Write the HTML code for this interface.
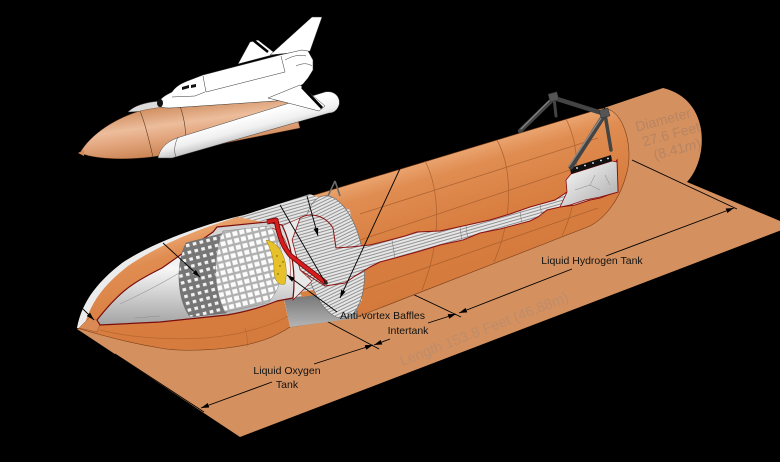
<!DOCTYPE html>
<html><head><meta charset="utf-8"><style>html,body{margin:0;padding:0;background:#000;}svg{display:block;}</style></head>
<body>
<svg width="780" height="462" viewBox="0 0 780 462" xmlns="http://www.w3.org/2000/svg" font-family="'Liberation Sans', Arial, sans-serif">
<defs>
 <linearGradient id="tankG" gradientUnits="userSpaceOnUse" x1="400" y1="165" x2="440" y2="300">
  <stop offset="0" stop-color="#eca975"/>
  <stop offset="0.15" stop-color="#e08d52"/>
  <stop offset="0.55" stop-color="#d87d3f"/>
  <stop offset="1" stop-color="#d27a3c"/>
 </linearGradient>
 <linearGradient id="loxCut" x1="0" y1="0" x2="0" y2="1">
  <stop offset="0" stop-color="#cccccc"/><stop offset="0.45" stop-color="#f7f7f7"/><stop offset="1" stop-color="#a3a3a3"/>
 </linearGradient>
 <linearGradient id="greyB" x1="0" y1="0" x2="0" y2="1">
  <stop offset="0" stop-color="#6f6f6f"/><stop offset="1" stop-color="#b5b5b5"/>
 </linearGradient>
 <linearGradient id="whiteR" x1="0" y1="0" x2="1" y2="1">
  <stop offset="0" stop-color="#ffffff"/><stop offset="1" stop-color="#a8a8a8"/>
 </linearGradient>
 <linearGradient id="etG" gradientUnits="userSpaceOnUse" x1="150" y1="103" x2="158" y2="162">
  <stop offset="0" stop-color="#c98250"/><stop offset="0.4" stop-color="#ecbd9c"/><stop offset="0.6" stop-color="#e3a67e"/><stop offset="1" stop-color="#c47a47"/>
 </linearGradient>
 <linearGradient id="srbG" gradientUnits="userSpaceOnUse" x1="240" y1="118" x2="246" y2="142">
  <stop offset="0" stop-color="#ffffff"/><stop offset="0.5" stop-color="#f0f0f0"/><stop offset="1" stop-color="#b9b9b9"/>
 </linearGradient>
 <pattern id="stripes" width="6" height="3" patternUnits="userSpaceOnUse" patternTransform="rotate(-16)">
  <rect width="6" height="3" fill="#e6e6e6"/><rect y="2.1" width="6" height="0.9" fill="#8a8a8a"/>
 </pattern>
 <pattern id="dgrid" width="7" height="7" patternUnits="userSpaceOnUse" patternTransform="rotate(-14)">
  <rect width="7" height="7" fill="#767676"/><rect x="2" y="2" width="3.6" height="3.2" fill="#f2f2f2"/>
 </pattern>
 <pattern id="wgrid" width="7" height="7" patternUnits="userSpaceOnUse" patternTransform="rotate(-14)">
  <rect width="7" height="7" fill="#b0b0b0"/><rect x="1" y="1.2" width="5" height="4.6" fill="#fbfbfb"/>
 </pattern>
 <marker id="ah" viewBox="0 0 8 6" refX="8" refY="3" markerWidth="8" markerHeight="6" markerUnits="userSpaceOnUse" orient="auto-start-reverse">
  <path d="M0,0.6 L8,3 L0,5.4 Z" fill="#000"/>
 </marker>
</defs>

<rect width="780" height="462" fill="#000"/>

<!-- shadow plane + projected cylinder -->
<path d="M77,329 L240,437 L792,226 L687,182 C708,160 712,100 663,88 L598,110 L590,225 Z" fill="#d4915f"/>

<!-- plane texts -->
<g transform="translate(671,134) rotate(-15)" fill="#b98461" font-size="14" text-anchor="middle">
 <text x="-4" y="-11">Diameter</text>
 <text x="0" y="5">27.6 Feet</text>
 <text x="2" y="21">(8.41<tspan font-style="italic">m</tspan>)</text>
</g>
<text transform="translate(484,329) rotate(-21.3)" text-anchor="middle" font-size="14.5" fill="#bf8c6a" y="5">Length 153.8 Feet (46.88m)</text>

<!-- dimension / extension lines on plane -->
<g stroke="#000" stroke-width="0.9" fill="none">
 <line x1="115" y1="354" x2="204" y2="412"/>
 <line x1="287" y1="300" x2="379" y2="349"/>
 <line x1="368" y1="273" x2="461" y2="317"/>
 <line x1="632" y1="160" x2="737" y2="209"/>
 <line x1="201" y1="408" x2="272" y2="382" marker-start="url(#ah)"/>
 <line x1="314" y1="364" x2="373" y2="345" marker-end="url(#ah)"/>
 <line x1="374" y1="345" x2="390" y2="339" marker-start="url(#ah)"/>
 <line x1="428" y1="323" x2="456" y2="314" marker-end="url(#ah)"/>
 <line x1="459" y1="313" x2="572" y2="269" marker-start="url(#ah)"/>
 <line x1="606" y1="256" x2="734" y2="208" marker-end="url(#ah)"/>
</g>

<!-- tank silhouette -->
<path d="M77,328 C86,302 110,276 143,254 C172,236 212,222 255,213 L600,109 C622,104 634,145 627,172 C620,200 605,218 590,226 L357,317 L290,327 C275,337 258,344 227,348 C200,351 175,351 160,348 C130,343 100,335 77,328 Z" fill="url(#tankG)" stroke="#7a3e18" stroke-width="0.6"/>
<!-- nose rim highlight -->
<path d="M77,328 C82,300 100,280 122,263 C150,244 200,225 248,214 C205,226 160,244 128,266 C105,284 90,302 84,328 Z" fill="#ececec"/>
<path d="M79,328 L90,317 L101,322 L97,332 Z" fill="#d98a55" stroke="#8b4a22" stroke-width="0.4"/>
<!-- LOX lower seam -->
<path d="M100,330 C140,340 200,342 240,333 C262,328 278,322 288,316" fill="none" stroke="#a85e2c" stroke-width="0.7" opacity="0.7"/>
<path d="M245,328 C247,335 248,342 247,347" fill="none" stroke="#a85e2c" stroke-width="0.6" opacity="0.7"/>

<!-- LH2 grid lines -->
<g stroke="#a85e2c" stroke-width="0.8" fill="none" opacity="0.85">
 <line x1="360" y1="214" x2="598" y2="138"/>
 <line x1="360" y1="240" x2="600" y2="160"/>
 <line x1="362" y1="290" x2="598" y2="208"/>
 <path d="M425,161 C440,190 442,240 422,290"/>
 <path d="M497,140 C512,168 514,215 494,262"/>
 <path d="M566,119 C580,146 582,192 562,236"/>
</g>

<!-- intertank body -->
<path d="M238,217 L310,194 L350,210 L362,300 L352,318 L290,327 L284,300 L282,226 Z" fill="url(#stripes)"/>
<path d="M284,298 L357,291 L357,318 L290,327 Z" fill="url(#greyB)"/>
<path d="M300,292 L338,286 L336,292 L302,297 Z" fill="#d9813f"/>
<!-- LH2 forward ring -->
<ellipse cx="334" cy="257" rx="29" ry="62" transform="rotate(-10 334 257)" fill="url(#stripes)" stroke="#6d6d6d" stroke-width="0.7"/>

<!-- inner dome + LH2 cut strip -->
<path d="M300,218 C310,212 325,215 333,228 L336,248 L350,247 L370,245 L390,240 L405,236 L417,232 L440,231 L463,226 L490,220 L510,214 L530,207 L555,200 L567,192 L575,185 L580,177 L595,172 L613,166 L617,160 L618,192 L608,195 L600,198 L590,200 L575,205 L560,207 L547,210 L538,217 L530,221 L500,229 L480,233 L463,240 L440,245 L417,252 L395,258 L380,262 L370,267 L355,276 L345,283 L325,286 L300,270 L292,240 Z" fill="url(#stripes)" stroke="#8b1010" stroke-width="1"/>
<g stroke="#7f7f7f" stroke-width="0.6">
 <line x1="392" y1="240" x2="395" y2="258"/><line x1="460" y1="227" x2="462" y2="241"/><line x1="466" y1="226" x2="468" y2="240"/>
 <line x1="520" y1="211" x2="522" y2="225"/><line x1="540" y1="204" x2="542" y2="217"/>
</g>
<!-- white region at aft end -->
<path d="M566,180 L571,174 L612,161 L617,162 L618,192 L600,197 L585,200 L570,205 L560,207 L567,192 Z" fill="url(#whiteR)" stroke="#8b1010" stroke-width="0.8"/>
<path d="M575,190 L590,185 L600,190 M590,185 L595,175 M605,175 L610,185" stroke="#888" stroke-width="0.5" fill="none"/>
<path d="M570,168 L611,155 L612,161 L571,174 Z" fill="#111"/>
<g fill="#fff"><circle cx="577" cy="168" r="0.9"/><circle cx="585" cy="165.5" r="0.9"/><circle cx="593" cy="163" r="0.9"/><circle cx="601" cy="160.5" r="0.9"/><circle cx="608" cy="158.5" r="0.9"/></g>

<!-- white dome near pipe -->
<path d="M282,226 C290,222 298,219 300,218 L292,240 L300,270 L312,281 L293,300 C296,280 292,245 282,226 Z" fill="#e9e9e9" stroke="#8b1010" stroke-width="0.6"/>

<!-- LOX cutaway -->
<path d="M97,320 C108,306 120,293 132,285 C142,278 152,273 162,268 L193,246 L213,232 L217,227 L267,222 L282,225 C292,245 296,275 293,298 L277,301 C260,308 245,312 227,315 L160,322 L100,325 Z" fill="url(#loxCut)" stroke="#7a0c0c" stroke-width="1.2"/>
<path d="M120,304 C150,290 175,276 190,266" stroke="#9a9a9a" stroke-width="0.6" fill="none"/>
<path d="M135,318 L160,316" stroke="#8a8a8a" stroke-width="0.6" fill="none"/>
<path d="M186,243 C176,262 176,298 190,317 L226,313 C236,295 236,255 224,233 Z" fill="url(#dgrid)" stroke="#666" stroke-width="0.5"/>
<path d="M223,231 C213,255 213,288 225,312 L268,303 C286,283 288,250 270,226 Z" fill="url(#wgrid)" stroke="#888" stroke-width="0.5"/>
<path d="M266,240 C280,242 290,262 285,284 C278,286 274,280 274,270 C274,258 270,248 266,240 Z" fill="#e6c12a" stroke="#9a7d10" stroke-width="0.5"/>
<g fill="#5a4a10"><circle cx="277" cy="256" r="0.7"/><circle cx="280" cy="266" r="0.7"/><circle cx="278" cy="274" r="0.7"/><circle cx="283" cy="262" r="0.7"/></g>
<path d="M272,228 C285,232 292,250 290,280" stroke="#b03030" stroke-width="0.7" fill="none"/>

<!-- red pipe -->
<path d="M267,222 L276,220 C279,235 282,246 291,256 L326,283" fill="none" stroke="#6a0808" stroke-width="5" stroke-linejoin="round"/>
<path d="M267,222 L276,220 C279,235 282,246 291,256 L326,283" fill="none" stroke="#d61c1c" stroke-width="3.4" stroke-linejoin="round"/>
<circle cx="326" cy="283" r="1.8" fill="#222"/>

<!-- small bipod on intertank -->
<g stroke="#6a6a6a" stroke-width="1.6" fill="none"><line x1="335" y1="181" x2="328" y2="196"/><line x1="335" y1="181" x2="340" y2="196"/></g>

<!-- aft struts -->
<g stroke-linecap="round">
 <line x1="520" y1="131" x2="554" y2="98" stroke="#444" stroke-width="4.5"/>
 <line x1="554" y1="98" x2="556" y2="116" stroke="#444" stroke-width="3"/>
 <line x1="554" y1="98" x2="605" y2="114" stroke="#444" stroke-width="4.5"/>
 <line x1="605" y1="114" x2="571" y2="167" stroke="#444" stroke-width="5"/>
 <line x1="605" y1="114" x2="611" y2="150" stroke="#444" stroke-width="3.5"/>
 <line x1="521" y1="129" x2="553" y2="97" stroke="#8a8a8a" stroke-width="1.2"/>
 <line x1="603" y1="115" x2="569" y2="166" stroke="#8a8a8a" stroke-width="1.4"/>
</g>
<rect x="549" y="93" width="9" height="8" fill="#555" stroke="#333" stroke-width="0.6" transform="rotate(-15 553 97)"/>
<rect x="600" y="109" width="9" height="8" fill="#555" stroke="#333" stroke-width="0.6" transform="rotate(-15 605 113)"/>
<line x1="602" y1="103" x2="605" y2="109" stroke="#000" stroke-width="0.8" marker-end="url(#ah)"/>

<!-- leader lines -->
<g stroke="#000" stroke-width="0.9" fill="none">
 <line x1="163" y1="243" x2="200" y2="277" marker-end="url(#ah)"/>
 <line x1="82" y1="308" x2="94" y2="320" marker-end="url(#ah)"/>
 <line x1="280" y1="205" x2="325" y2="282"/>
 <line x1="307" y1="196" x2="318" y2="236" marker-end="url(#ah)"/>
 <line x1="404" y1="160" x2="340" y2="298" marker-end="url(#ah)"/>
 <line x1="337" y1="312" x2="287" y2="275" marker-end="url(#ah)"/>
</g>

<!-- labels -->
<g font-size="10.5" fill="#111">
 <text x="592" y="264" text-anchor="middle">Liquid Hydrogen Tank</text>
 <text x="340" y="319">Anti-vortex Baffles</text>
 <text x="408" y="334" text-anchor="middle">Intertank</text>
 <text x="287" y="374" text-anchor="middle">Liquid Oxygen</text>
 <text x="287" y="388" text-anchor="middle">Tank</text>
</g>

<!-- SHUTTLE STACK -->
<path d="M128,112 C134,106 145,102 162,101 L163,110 Z" fill="#dcdcdc" stroke="#555" stroke-width="0.4"/>
<path d="M80,153 C88,138 110,120 140,111 C170,104 230,101 292,99 L300,128 L170,154 C140,160 100,161 80,153 Z" fill="url(#etG)" stroke="#6b3b1c" stroke-width="0.4"/>
<path d="M78,153 L84,150 L84,156 Z" fill="#d08a5a"/>
<g stroke="#5a3a25" stroke-width="0.6" fill="none">
 <path d="M140,111 C146,125 150,145 153,157"/>
 <path d="M180,106 C185,120 187,135 185,152"/>
</g>
<path d="M158,158 C160,148 167,141 180,137 L325,92 C335,90 341,98 339,105 C337,111 333,113 329,113 L172,158 Z" fill="url(#srbG)" stroke="#444" stroke-width="0.5"/>
<path d="M178,137 C174,145 174,152 176,157" stroke="#444" stroke-width="0.5" fill="none"/>
<!-- orbiter -->
<path d="M238,64 L250,42 L258,40 L276,54 Z" fill="#fff" stroke="#333" stroke-width="0.5"/>
<line x1="253" y1="40" x2="268" y2="52" stroke="#000" stroke-width="2.6"/>
<path d="M270,55 L312,17 L322,17 L310,51 Z" fill="#fff" stroke="#333" stroke-width="0.5"/>
<path d="M158,104 C160,98 166,95 172,92 C176,86 182,83 190,80 L203,75 L280,55 L302,50 L308,51 L313,60 L313,70 L308,78 L303,84 L300,86 L290,100 L170,108 C164,108 159,107 158,104 Z" fill="#fff" stroke="#333" stroke-width="0.5"/>
<path d="M268,98 L300,85 L325,106 L319,111 L288,103 Z" fill="#fff" stroke="#333" stroke-width="0.5"/>
<line x1="302" y1="87" x2="322" y2="108" stroke="#000" stroke-width="2.8"/>
<g stroke="#333" stroke-width="0.5" fill="none">
 <path d="M203,76 L206,92 L285,72 L281,56"/>
 <path d="M285,60 C292,56 300,54 306,56"/>
 <path d="M296,66 C302,63 308,63 312,66"/>
 <path d="M172,97 L195,96 L205,92"/>
</g>
<path d="M182,87 L189,85 L189,88 L182,90 Z M191,85 L196,84 L196,87 L191,88 Z" fill="#111"/>
<ellipse cx="160" cy="103" rx="3" ry="4" fill="#111"/>
</svg>
</body></html>
